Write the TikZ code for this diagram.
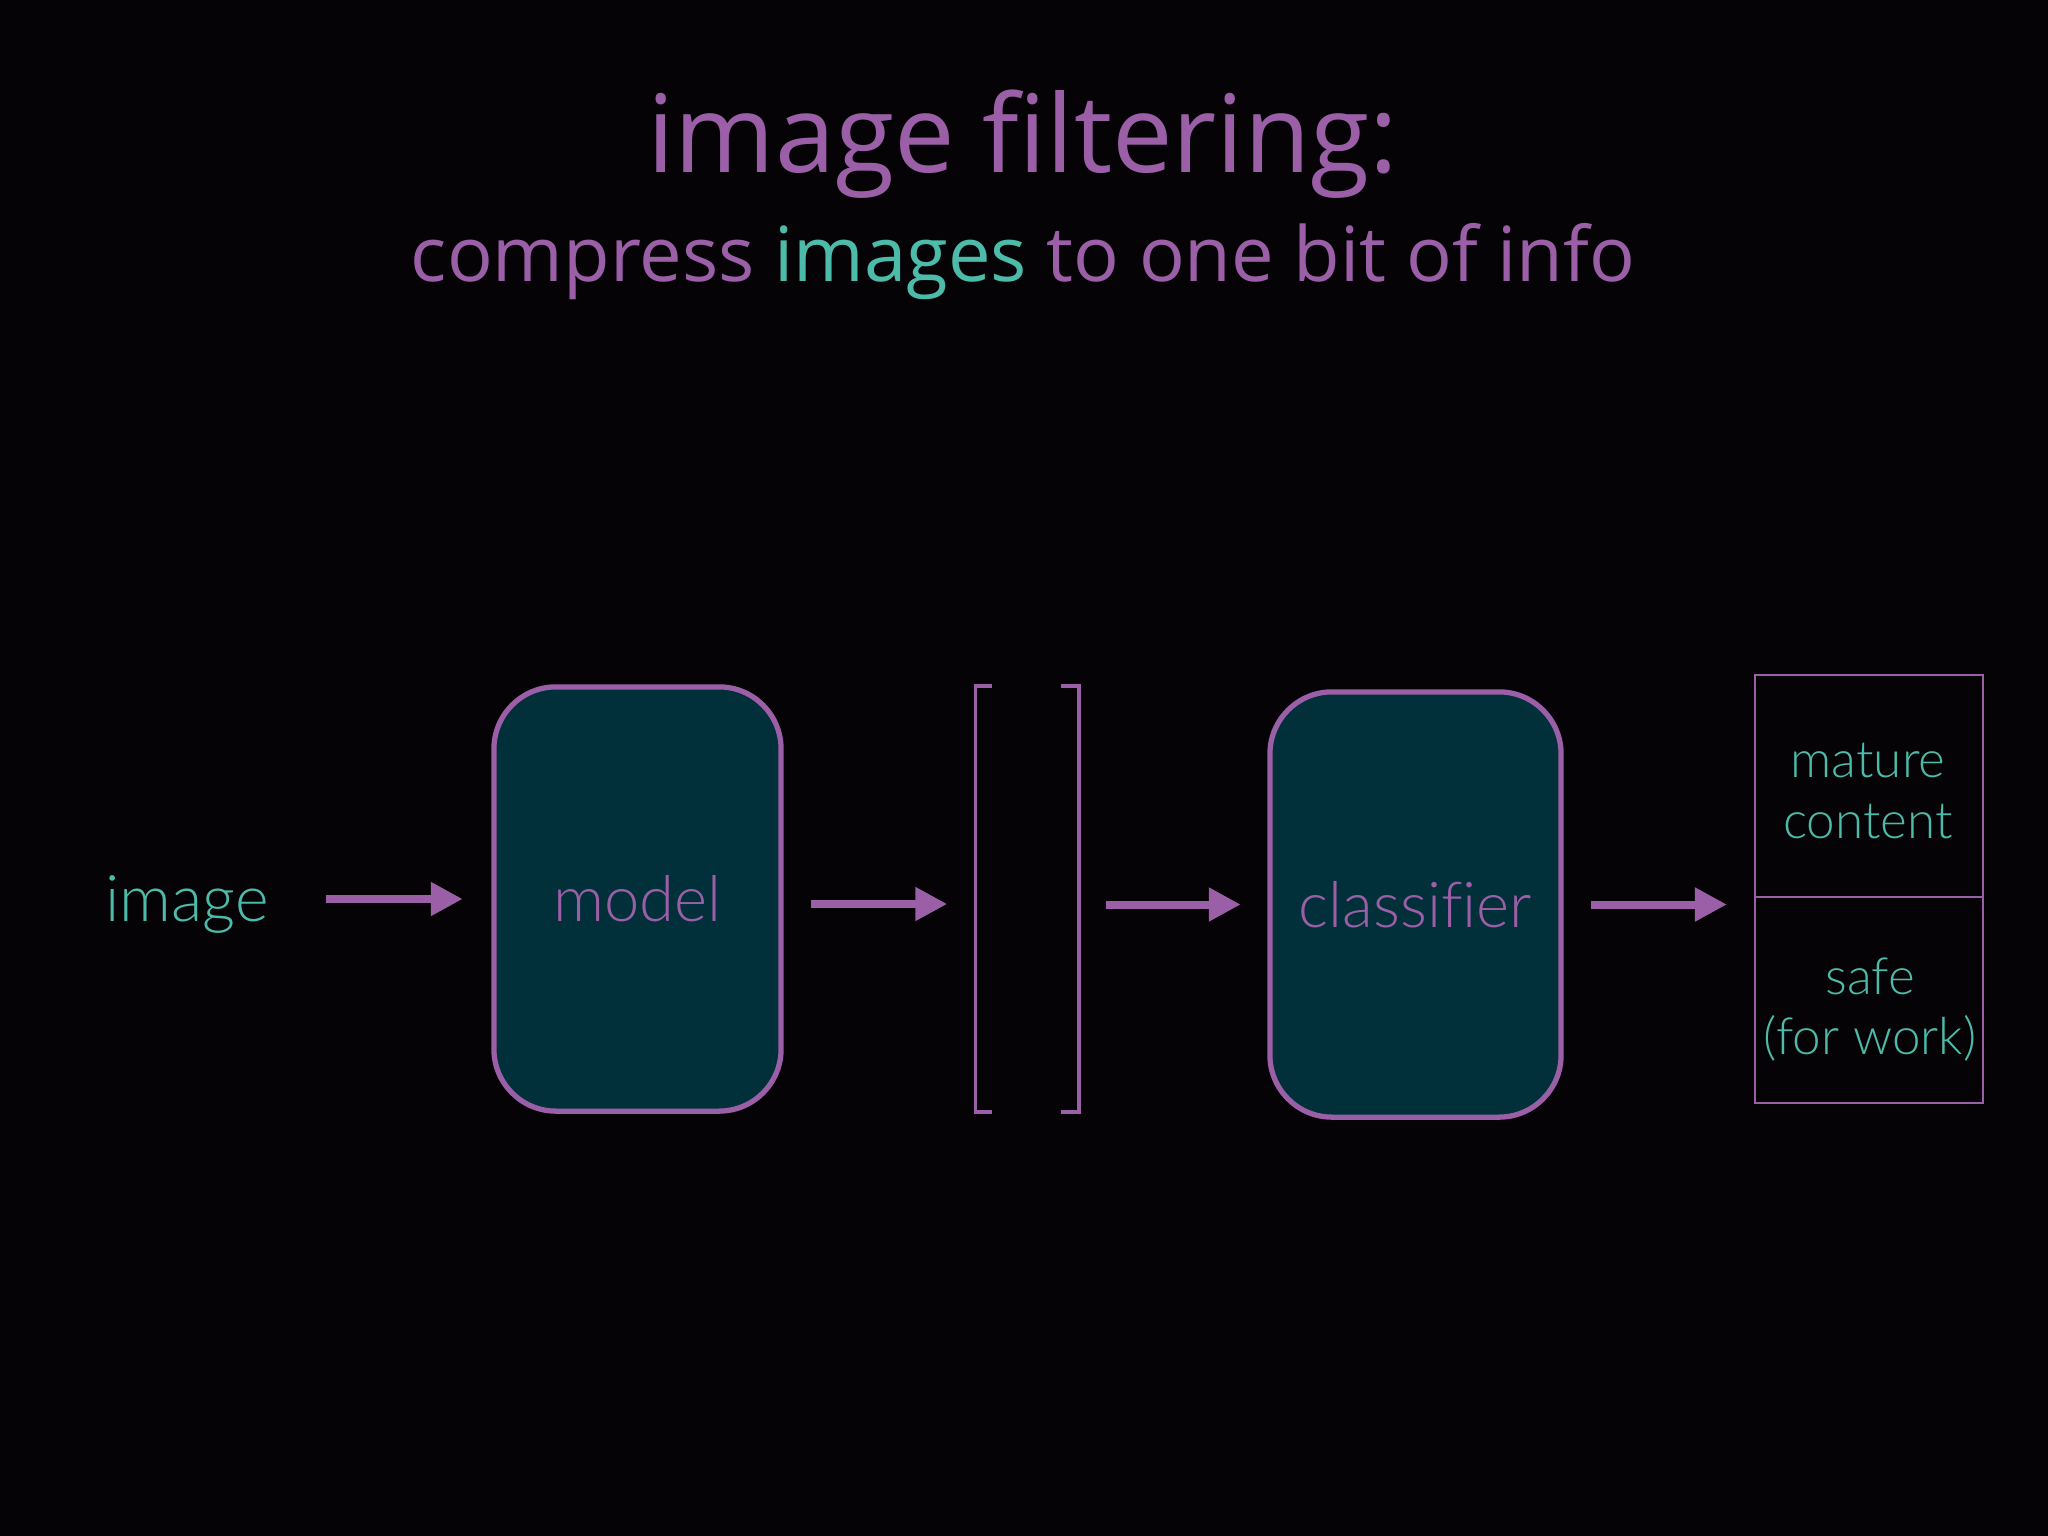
\documentclass[tikz,border=0pt]{standalone}
\usepackage{fontspec}
\setmainfont{Liberation Sans}
\newfontfamily\titlefont{Open Sans}
\IfFontExistsTF{Lato Light}{\newfontfamily\lblfont{Lato Light}[Ligatures=NoCommon]}{\newfontfamily\lblfont{Liberation Sans}}
\usetikzlibrary{arrows.meta,calc}
\definecolor{bg}{HTML}{050305}
\definecolor{purp}{HTML}{9B5FA7}
\definecolor{tealtxt}{HTML}{4DBBA9}
\definecolor{boxfill}{HTML}{01303A}
\begin{document}
\begin{tikzpicture}[x=0.01cm,y=-0.01cm,
  lbl/.style={text=tealtxt, font=\lblfont\fontsize{18.3}{21}\selectfont, inner sep=0pt},
  proc/.style={draw=purp, line width=1.5pt, fill=boxfill, rounded corners=0.62cm,
    minimum width=2.87cm, minimum height=4.24cm, inner sep=0pt, text=purp,
    font=\lblfont\fontsize{18.0}{21}\selectfont},
  flow/.style={draw=purp, line width=2.28pt, -{Triangle[length=9.1pt,width=9.1pt]}},
  brk/.style={draw=purp, line width=1pt, line join=miter},
  cell/.style={draw=purp, line width=0.8pt, minimum width=2.28cm, inner sep=0pt},
  outtxt/.style={text=tealtxt, align=center, font=\lblfont\fontsize{14.55}{17.07}\selectfont, inner sep=0pt}
]
\useasboundingbox[fill=bg] (0,0) rectangle (2048,1536);

% titles
\node[anchor=base, text=purp, inner sep=0pt, font=\titlefont\fontsize{30.7}{36}\selectfont]
  (title) at (1023,172) {image filtering:};
\node[anchor=base, text=purp, inner sep=0pt, font=\titlefont\fontsize{21.6}{26}\selectfont]
  (subtitle) at (1023,281) {compress \textcolor{tealtxt}{images} to one bit of info};

% pipeline
\node[lbl, anchor=base] (img) at (187,921) {image};
\node[proc] (model) at (637.5,899) {model};
\node[minimum width=1.02cm, minimum height=4.24cm, inner sep=0pt] (vec) at (1027,899) {};
\draw[brk] (vec.north west) ++(17,0) -- (vec.north west) -- (vec.south west) -- ++(17,0);
\draw[brk] (vec.north east) ++(-18,0) -- (vec.north east) -- (vec.south east) -- ++(-18,0);
\node[proc, minimum width=2.91cm, minimum height=4.25cm] (cls) at (1415.5,904.5) {classifier};

% output cells
\node[cell, minimum height=2.22cm] (mat) at (1869,786) {};
\node[cell, minimum height=2.06cm] (safe) at (1869,1000) {};
\node[outtxt] (matlbl) at (1868,791) {mature\\content};
\node[outtxt] (safelbl) at (1870,1010) {safe\\(for work)};

% connectors
\draw[flow, shorten <=0.563cm, shorten >=0.285cm] (img.east |- model.west) -- (model.west);
\draw[flow, shorten <=0.275cm, shorten >=0.28cm] ($(model.east)+(0,5)$) -- ($(model.east -| vec.west)+(0,5)$);
\draw[flow, shorten <=0.27cm, shorten >=0.265cm] (vec.east |- cls.west) -- (cls.west);
\draw[flow, shorten <=0.275cm, shorten >=0.266cm] (cls.east) -- (cls.east -| mat.west);
\end{tikzpicture}
\end{document}
